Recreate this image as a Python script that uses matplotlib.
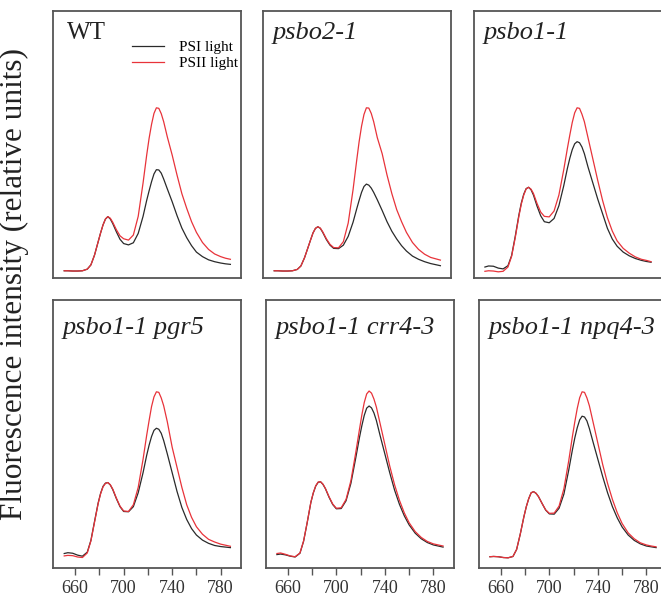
import numpy as np
import matplotlib
matplotlib.use("Agg")
import matplotlib.pyplot as plt

plt.rcParams['font.family'] = ['Liberation Serif', 'DejaVu Serif']

# 77K fluorescence emission spectra, relative units
wavelength = [651, 654, 658, 662, 666, 670, 673, 676,
              679, 681, 683, 685, 687, 689, 691, 694, 697, 700, 704, 708, 712, 716,
              719, 721, 723, 725, 727, 729, 731, 733, 736,
              740, 744, 748, 752, 756, 760, 765, 770, 775, 780, 784, 788]

wt_psi = [2.6, 2.6, 2.5, 2.5, 2.6, 3.2, 4.8, 8.5,
          13.5, 16.8, 19.8, 22.0, 22.9, 22.0, 20.3, 17.2, 14.4, 12.8, 12.3, 13.1, 16.6, 23.0,
          29.0, 32.6, 36.0, 38.9, 40.5, 40.4, 39.2, 37.0, 33.3,
          28.5, 23.3, 18.6, 15.0, 12.0, 9.6, 7.9, 6.7, 6.0, 5.5, 5.2, 5.0]
wt_psii = [2.6, 2.6, 2.5, 2.5, 2.6, 3.2, 4.8, 8.5,
           13.5, 16.8, 19.8, 22.0, 22.9, 22.3, 20.8, 18.0, 15.7, 14.6, 14.1, 16.0, 23.0, 35.5,
           46.0, 52.3, 57.5, 61.6, 63.7, 63.5, 61.5, 58.5, 52.8,
           46.0, 38.5, 31.5, 26.0, 21.0, 17.0, 13.2, 10.6, 8.9, 7.9, 7.3, 6.9]

psbo2_psi = [2.6, 2.6, 2.5, 2.5, 2.6, 3.1, 4.4, 7.5,
             11.5, 14.2, 16.8, 18.5, 19.1, 18.5, 17.0, 14.3, 12.2, 11.0, 10.9, 12.2, 15.5, 20.8,
             25.8, 29.0, 32.0, 34.2, 35.1, 34.7, 33.6, 32.0, 29.2,
             25.2, 21.0, 17.4, 14.5, 12.0, 10.0, 8.1, 6.9, 6.0, 5.3, 4.9, 4.5]
psbo2_psii = [2.6, 2.6, 2.5, 2.5, 2.6, 3.1, 4.4, 7.5,
              11.5, 14.2, 16.8, 18.5, 19.1, 18.6, 17.2, 14.6, 12.5, 11.3, 11.2, 13.5, 20.5, 33.0,
              44.0, 51.0, 56.8, 61.2, 63.7, 63.6, 61.6, 58.5, 52.5,
              46.5, 38.5, 31.5, 25.5, 21.0, 17.0, 13.2, 10.6, 8.8, 7.6, 7.1, 6.6]

psbo1_psi = [4.0, 4.4, 4.3, 3.6, 3.3, 4.5, 8.3, 15.5,
             23.5, 28.0, 31.3, 33.4, 33.9, 33.0, 31.0, 26.8, 23.2, 21.0, 20.6, 22.2, 27.0, 34.5,
             41.0, 44.8, 48.0, 50.2, 51.0, 50.6, 49.0, 46.5, 41.5,
             35.5, 29.5, 24.0, 18.5, 14.5, 11.8, 9.6, 8.2, 7.2, 6.5, 6.1, 5.8]
psbo1_psii = [2.4, 2.6, 2.5, 2.2, 2.4, 4.0, 8.0, 15.0,
              23.0, 27.6, 31.0, 33.3, 33.9, 33.2, 31.6, 27.8, 24.6, 23.0, 22.8, 25.0, 31.0, 40.5,
              48.5, 53.5, 58.2, 61.8, 63.7, 63.5, 61.3, 58.5, 52.5,
              44.5, 36.5, 29.0, 22.5, 17.5, 13.8, 11.0, 9.2, 7.8, 6.9, 6.5, 6.0]

pgr5_psi = [5.3, 5.6, 5.4, 4.7, 4.3, 5.8, 10.2, 17.3,
            24.2, 27.8, 30.4, 31.6, 31.8, 30.9, 29.2, 25.8, 22.8, 21.0, 20.9, 22.8, 28.0, 35.5,
            42.0, 45.8, 49.0, 51.3, 52.1, 51.7, 50.2, 47.5, 42.5,
            35.5, 28.5, 22.5, 18.0, 14.6, 12.2, 10.3, 9.1, 8.3, 7.9, 7.7, 7.5]
pgr5_psii = [4.4, 4.6, 4.5, 4.0, 3.8, 5.5, 10.0, 17.0,
             24.0, 27.6, 30.2, 31.5, 31.8, 31.0, 29.4, 26.0, 23.0, 21.2, 21.0, 23.5, 30.0, 40.5,
             49.5, 55.0, 60.2, 63.8, 65.7, 65.5, 63.4, 60.5, 54.5,
             45.0, 37.5, 30.0, 23.5, 18.8, 15.3, 12.5, 10.6, 9.6, 8.8, 8.4, 8.0]

crr4_psi = [4.9, 5.1, 4.8, 4.3, 4.0, 5.4, 9.9, 16.9,
            24.4, 27.9, 30.5, 31.9, 32.1, 31.1, 29.5, 26.3, 23.6, 22.0, 22.1, 25.0, 31.5, 41.0,
            48.5, 53.0, 56.9, 59.6, 60.4, 59.7, 57.8, 55.0, 49.5,
            42.5, 35.5, 29.0, 23.7, 19.4, 16.0, 12.9, 10.8, 9.4, 8.5, 8.1, 7.7]
crr4_psii = [5.3, 5.5, 5.0, 4.4, 4.1, 5.5, 10.0, 17.0,
             24.5, 28.0, 30.6, 32.0, 32.1, 31.2, 29.6, 26.5, 23.8, 22.2, 22.4, 25.5, 32.5, 43.0,
             51.5, 57.0, 61.7, 64.9, 66.0, 65.2, 63.0, 60.0, 54.0,
             46.0, 38.0, 31.0, 25.2, 20.5, 16.8, 13.5, 11.3, 9.8, 8.9, 8.5, 8.1]

npq4_psi = [4.1, 4.2, 4.1, 3.8, 3.7, 4.2, 6.8, 12.5,
            19.0, 22.8, 25.8, 28.0, 28.4, 27.8, 26.6, 24.0, 21.5, 20.1, 20.0, 22.2, 27.5, 36.5,
            44.0, 48.5, 52.3, 55.2, 56.6, 56.3, 54.8, 52.0, 47.0,
            40.5, 34.0, 28.0, 22.8, 18.6, 15.2, 12.2, 10.2, 8.9, 8.1, 7.8, 7.5]
npq4_psii = [4.1, 4.2, 4.1, 3.8, 3.7, 4.2, 6.8, 12.5,
             19.0, 22.8, 25.8, 28.0, 28.4, 27.8, 26.6, 24.0, 21.6, 20.3, 20.4, 23.0, 29.5, 40.0,
             49.0, 54.5, 59.5, 63.5, 65.7, 65.5, 63.4, 60.5, 54.5,
             46.5, 38.5, 31.5, 25.5, 20.5, 16.5, 13.0, 10.8, 9.3, 8.5, 8.1, 7.8]

titles = ['WT', 'psbo2-1', 'psbo1-1', 'psbo1-1 pgr5', 'psbo1-1 crr4-3', 'psbo1-1 npq4-3']
psi_light = [wt_psi, psbo2_psi, psbo1_psi, pgr5_psi, crr4_psi, npq4_psi]
psii_light = [wt_psii, psbo2_psii, psbo1_psii, pgr5_psii, crr4_psii, npq4_psii]

W, H = 661, 596
fig = plt.figure(figsize=(W / 100, H / 100), dpi=100)

# panel boxes in pixels: left, top, width, height
boxes = [(53.3, 11, 188, 266.7), (263.3, 11, 188, 266.7), (474, 11, 188, 266.7),
         (53.3, 300, 188, 267.7), (266, 300, 188, 267.7), (479, 300, 188, 267.7)]

frame = '#555555'
for i, (l, t, w, h) in enumerate(boxes):
    ax = fig.add_axes([l / W, (H - t - h) / H, w / W, h / H])
    ax.plot(wavelength, psi_light[i], color='#2a2a2a', lw=0.9, label='PSI light')
    ax.plot(wavelength, psii_light[i], color='#e8333a', lw=0.9, label='PSII light')
    ax.set_xlim(642, 797)
    ax.set_ylim(0, 100)
    ax.set_yticks([])
    for s in ax.spines.values():
        s.set_color(frame)
        s.set_linewidth(1.3)
    if i < 3:
        ax.set_xticks([])
        ty = 1 - 28 / h
    else:
        ax.set_xticks([660, 700, 740, 780])
        ax.set_xticks([680, 720, 760], minor=True)
        ax.tick_params(axis='x', which='both', direction='out', length=5,
                       width=1.0, color=frame, pad=3.5, labelsize=13, labelcolor='#333333')
        ty = 1 - 34 / h
    if i == 0:
        ax.text(0.071, ty, titles[i], transform=ax.transAxes, fontsize=18,
                va='baseline', color='#222222')
        ax.legend(loc='upper right', bbox_to_anchor=(0.985, 0.89), frameon=False,
                  fontsize=11, handlelength=2.1, handletextpad=1.0, labelspacing=0.15,
                  borderpad=0, borderaxespad=0)
    else:
        ax.text(0.05, ty, titles[i], transform=ax.transAxes, fontsize=19,
                style='italic', va='baseline', color='#222222')

fig.text(14 / W, 1 - 284 / H, 'Fluorescence intensity (relative units)', rotation=90,
         ha='center', va='center', fontsize=22.5, color='#222222')

fig.savefig('out.png', dpi=100, facecolor='white')
